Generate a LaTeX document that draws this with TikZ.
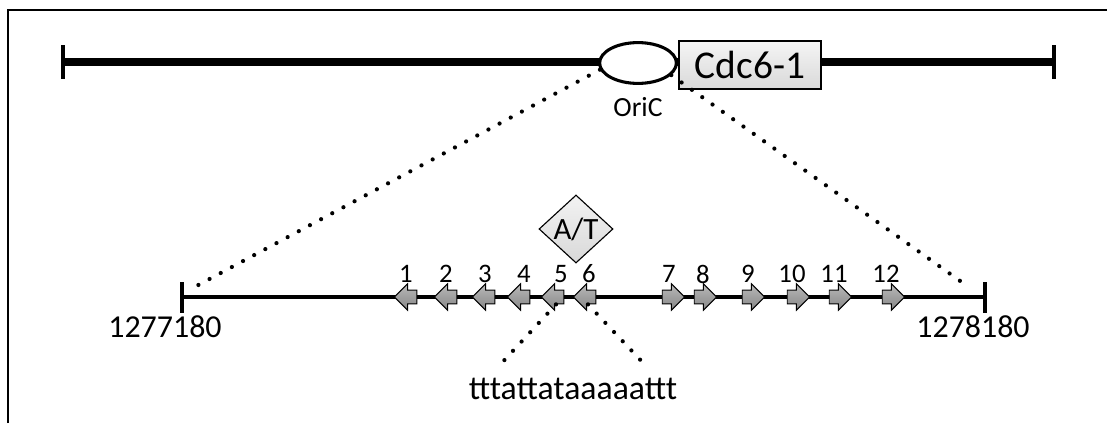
\documentclass[tikz,border=0pt]{standalone}
\usepackage{fontspec}
\setmainfont{Carlito}
\usetikzlibrary{shapes.geometric,shapes.arrows}
\tikzset{
  dots/.style={line width=3pt, line cap=round, dash pattern=on 0pt off 9pt},
  gene/.style={single arrow, draw=black, line width=0.7pt, top color=gray!55, bottom color=gray!95,
    inner xsep=0pt, inner ysep=0.16cm, single arrow head extend=0.16cm, minimum height=0.56cm},
  leftgene/.style={gene, shape border rotate=180},
  numlab/.style={font=\fontsize{19}{19}\selectfont, inner sep=0pt},
  poslab/.style={font=\fontsize{22.7}{23}\selectfont}
}
\begin{document}
\begin{tikzpicture}[x=0.025cm, y=-0.025cm]
    \useasboundingbox (0,0) rectangle (1107,423);
    \draw [line width=2pt] (8,423)--(8,10)--(1107,10);
    \draw [line width=5pt] (63,62)--(1054,62);
    \draw [line width=3pt] (63,45)--(63,79);
    \draw [line width=3pt] (1054,45)--(1054,79);
    \node [draw, ellipse, line width=2.2pt, fill=white, minimum width=1.92cm, minimum height=1.02cm] (oric) at (638,63) {};
    \node [font=\fontsize{19.7}{20}\selectfont] (orilab) at (638,107) {OriC};
    \node [draw, line width=1pt, top color=gray!8, bottom color=gray!30, minimum width=3.55cm, minimum height=1.2cm,
      font=\fontsize{28}{28}\selectfont] (cdc) at (750,65) {Cdc6-1};
    \draw [line width=2.2pt] (182,297)--(985,297);
    \draw [line width=3pt] (182,282)--(182,313);
    \draw [line width=3pt] (985,282)--(985,313);
    \node [poslab] (left) at (165,327) {1277180};
    \node [poslab] (right) at (973,327) {1278180};
    \coordinate (lend) at (189,290);
    \coordinate (rend) at (970,288);
    \draw [dots] (oric.190)--(lend);
    \draw [dots] (oric.-20)--(rend);
    \node [draw, diamond, line width=0.8pt, top color=gray!10, bottom color=gray!30, inner sep=0pt,
      minimum width=1.85cm, minimum height=1.7cm, font=\fontsize{22}{22}\selectfont] (at) at (576,229) {A/T};
    \node [leftgene] (a1) at (409,297) {};
    \node [leftgene] (a2) at (449,297) {};
    \node [leftgene] (a3) at (487,297) {};
    \node [leftgene] (a4) at (522,297) {};
    \node [leftgene] (a5) at (556,297) {};
    \node [leftgene] (a6) at (588,297) {};
    \node [gene] (a7) at (670,297) {};
    \node [gene] (a8) at (702,297) {};
    \node [gene] (a9) at (750,297) {};
    \node [gene] (a10) at (795,297) {};
    \node [gene] (a11) at (837,297) {};
    \node [gene] (a12) at (890,297) {};
    \node [numlab] (n1) at (406,274) {1};
    \node [numlab] (n2) at (446,274) {2};
    \node [numlab] (n3) at (485,274) {3};
    \node [numlab] (n4) at (524,274) {4};
    \node [numlab] (n5) at (561,274) {5};
    \node [numlab] (n6) at (589,274) {6};
    \node [numlab] (n7) at (669,274) {7};
    \node [numlab] (n8) at (703,274) {8};
    \node [numlab] (n9) at (748,274) {9};
    \node [numlab] (n10) at (792,274) {10};
    \node [numlab] (n11) at (834,274) {11};
    \node [numlab] (n12) at (886,274) {12};
    \node [font=\fontsize{24}{24}\selectfont] (seq) at (573,389) {tttattataaaaattt};
    \coordinate (s1) at (498,367);
    \coordinate (s2) at (647,367);
    \draw [dots] (a5.south)--(s1);
    \draw [dots] (a6.south)--(s2);
\end{tikzpicture}
\end{document}
